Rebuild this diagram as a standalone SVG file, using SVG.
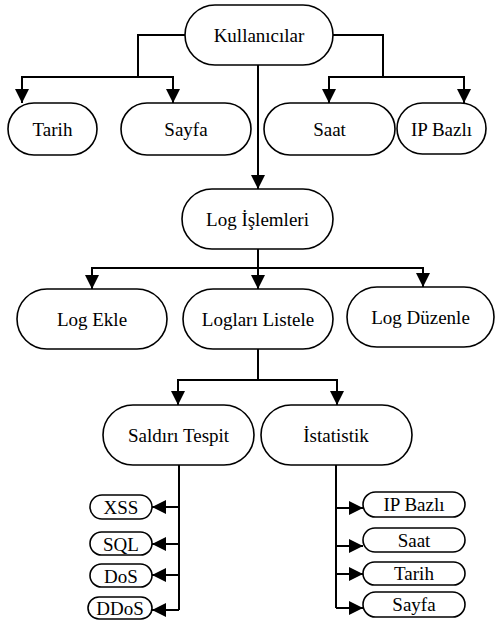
<svg xmlns="http://www.w3.org/2000/svg" width="496" height="620" viewBox="0 0 496 620">
  <style>
    .box rect { fill: #ffffff; stroke: #000000; stroke-width: 1.6; }
    .box text { font-family: 'Liberation Serif', 'Times New Roman', serif; font-size: 19px; fill: #000000; text-anchor: middle; }
    #connectors path { fill: none; stroke: #000000; stroke-width: 2; marker-end: url(#arrow); }
    #connectors path.trunk { marker-end: none; }
  </style>
  <defs>
    <marker id="arrow" markerUnits="userSpaceOnUse" markerWidth="15" markerHeight="14" refX="14" refY="7" orient="auto">
      <path d="M0,0 L14,7 L0,14 z" fill="#000000"/>
    </marker>
  </defs>

  <rect width="496" height="620" fill="#ffffff"/>

  <!-- connectors -->
  <g id="connectors">
    <!-- Kullanıcılar to its four children -->
    <path class="trunk" d="M185,35 H138 V77"/>
    <path d="M138,77 H22 V103"/>
    <path d="M138,77 H173 V103"/>
    <path class="trunk" d="M333,35 H383 V77"/>
    <path d="M383,77 H329 V103"/>
    <path d="M383,77 H464 V103"/>
    <path d="M258,65 V189"/>
    <!-- Log İşlemleri -->
    <path class="trunk" d="M258,249 V268"/>
    <path d="M258,268 H92 V289"/>
    <path d="M258,268 V289"/>
    <path d="M258,268 H423 V287"/>
    <!-- Logları Listele -->
    <path class="trunk" d="M258,349 V380"/>
    <path d="M258,380 H178 V405"/>
    <path d="M258,380 H337 V405"/>
    <!-- Saldırı Tespit branches -->
    <path class="trunk" d="M179,465 V610"/>
    <path d="M179,507 H152"/>
    <path d="M179,544 H152"/>
    <path d="M179,575 H152"/>
    <path d="M179,610 H152"/>
    <!-- İstatistik branches -->
    <path class="trunk" d="M336,465 V608"/>
    <path d="M336,508 H363"/>
    <path d="M336,546 H363"/>
    <path d="M336,574 H363"/>
    <path d="M336,608 H363"/>
  </g>

  <g id="kullanicilar" class="box">
    <rect x="185" y="5" width="148" height="60" rx="30"/>
    <text x="259" y="41.5" font-family="Liberation Serif">Kullanıcılar</text>
  </g>
  <g id="tarih" class="box">
    <rect x="8" y="103" width="89" height="52" rx="26"/>
    <text x="52.5" y="136" font-family="Liberation Serif">Tarih</text>
  </g>
  <g id="sayfa" class="box">
    <rect x="121" y="103" width="130" height="52" rx="26"/>
    <text x="186" y="136" font-family="Liberation Serif">Sayfa</text>
  </g>
  <g id="saat" class="box">
    <rect x="264" y="103" width="131" height="52" rx="26"/>
    <text x="329.5" y="136" font-family="Liberation Serif">Saat</text>
  </g>
  <g id="ip-bazli" class="box">
    <rect x="397" y="103" width="89" height="51" rx="25.5"/>
    <text x="441.5" y="136" font-family="Liberation Serif">IP Bazlı</text>
  </g>

  <g id="log-islemleri" class="box">
    <rect x="182" y="189" width="151" height="60" rx="30"/>
    <text x="257.5" y="225.5" font-family="Liberation Serif">Log İşlemleri</text>
  </g>

  <g id="log-ekle" class="box">
    <rect x="17" y="289" width="150" height="60" rx="30"/>
    <text x="92" y="325.5" font-family="Liberation Serif">Log Ekle</text>
  </g>
  <g id="loglari-listele" class="box">
    <rect x="183" y="289" width="150" height="60" rx="30"/>
    <text x="258" y="325.5" font-family="Liberation Serif">Logları Listele</text>
  </g>
  <g id="log-duzenle" class="box">
    <rect x="347" y="287" width="147" height="60" rx="30"/>
    <text x="420.5" y="323.5" font-family="Liberation Serif">Log Düzenle</text>
  </g>

  <g id="saldiri-tespit" class="box">
    <rect x="103" y="405" width="151" height="60" rx="30"/>
    <text x="178.5" y="441.5" font-family="Liberation Serif">Saldırı Tespit</text>
  </g>
  <g id="istatistik" class="box">
    <rect x="261" y="405" width="151" height="60" rx="30"/>
    <text x="336" y="441.5" font-family="Liberation Serif">İstatistik</text>
  </g>

  <g id="xss" class="box">
    <rect x="90" y="495" width="62" height="24" rx="12"/>
    <text x="121" y="514" font-family="Liberation Serif">XSS</text>
  </g>
  <g id="sql" class="box">
    <rect x="90" y="532" width="62" height="23" rx="11.5"/>
    <text x="121" y="550.5" font-family="Liberation Serif">SQL</text>
  </g>
  <g id="dos" class="box">
    <rect x="90" y="564" width="62" height="23" rx="11.5"/>
    <text x="121" y="582.5" font-family="Liberation Serif">DoS</text>
  </g>
  <g id="ddos" class="box">
    <rect x="88" y="597" width="64" height="22" rx="11"/>
    <text x="120" y="615" font-family="Liberation Serif">DDoS</text>
  </g>

  <g id="stat-ip-bazli" class="box">
    <rect x="363" y="492" width="102" height="25" rx="12.5"/>
    <text x="414" y="511" font-family="Liberation Serif">IP Bazlı</text>
  </g>
  <g id="stat-saat" class="box">
    <rect x="363" y="528" width="102" height="24" rx="12"/>
    <text x="414" y="546.5" font-family="Liberation Serif">Saat</text>
  </g>
  <g id="stat-tarih" class="box">
    <rect x="363" y="562" width="102" height="23" rx="11.5"/>
    <text x="414" y="580" font-family="Liberation Serif">Tarih</text>
  </g>
  <g id="stat-sayfa" class="box">
    <rect x="363" y="592" width="102" height="25" rx="12.5"/>
    <text x="414" y="611" font-family="Liberation Serif">Sayfa</text>
  </g>
</svg>
